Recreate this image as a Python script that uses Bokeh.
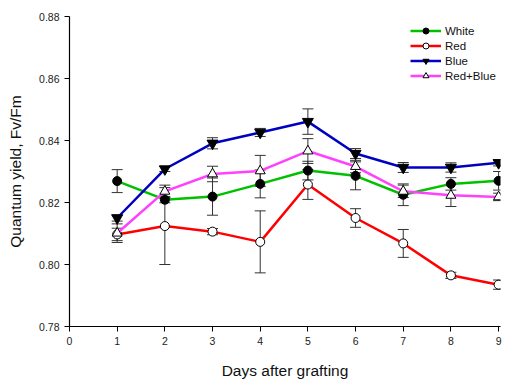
from bokeh.plotting import figure
from bokeh.models import Range1d, ColumnDataSource, Whisker, TeeHead, Legend, LegendItem, FixedTicker, NumeralTickFormatter
from bokeh.embed import file_html
from bokeh.resources import INLINE

days = [1, 2, 3, 4, 5, 6, 7, 8, 9]
white = [0.8269, 0.8209, 0.8219, 0.8260, 0.8303, 0.8286, 0.8225, 0.8260, 0.8270]
white_err = [0.0037, 0.0010, 0.0060, 0.0045, 0.0030, 0.0045, 0.0035, 0.0020, 0.0030]
red = [0.8097, 0.8124, 0.8106, 0.8073, 0.8258, 0.8150, 0.8068, 0.7965, 0.7935]
red_err = [0.0020, 0.0124, 0.0010, 0.0100, 0.0048, 0.0030, 0.0045, 0.0010, 0.0015]
blue = [0.8150, 0.8308, 0.8391, 0.8426, 0.8461, 0.8358, 0.8313, 0.8313, 0.8328]
blue_err = [0.0010, 0.0008, 0.0018, 0.0013, 0.0041, 0.0016, 0.0016, 0.0015, 0.0010]
redblue = [0.8101, 0.8236, 0.8292, 0.8302, 0.8366, 0.8316, 0.8236, 0.8223, 0.8218]
redblue_err = [0.0030, 0.0020, 0.0025, 0.0050, 0.0040, 0.0020, 0.0020, 0.0036, 0.0012]

x_ticks = [0, 1, 2, 3, 4, 5, 6, 7, 8, 9]
y_ticks = [0.78, 0.80, 0.82, 0.84, 0.86, 0.88]

FONT = "Liberation Sans"

p = figure(width=509, height=382, output_backend="svg", toolbar_location=None,
           x_range=Range1d(0, 9.04), y_range=Range1d(0.78, 0.88),
           min_border_left=69, min_border_right=9, min_border_top=16, min_border_bottom=56)
p.outline_line_color = None
p.xgrid.visible = False
p.ygrid.visible = False

p.xaxis.ticker = FixedTicker(ticks=x_ticks)
p.yaxis.ticker = FixedTicker(ticks=y_ticks)
p.yaxis.formatter = NumeralTickFormatter(format="0.00")
for ax in (p.xaxis, p.yaxis):
    ax.major_label_text_font = FONT
    ax.major_label_text_font_size = "10.5px"
    ax.major_label_text_color = "#222222"
    ax.axis_label_text_font = FONT
    ax.axis_label_text_font_size = "15.5px"
    ax.axis_label_text_font_style = "normal"
    ax.axis_label_text_color = "#111111"
    ax.minor_tick_line_color = None
    ax.major_tick_out = 5
    ax.major_tick_in = 0
    ax.axis_line_color = "black"
    ax.axis_line_width = 1.2
    ax.major_tick_line_color = "black"
p.xaxis.axis_label = "Days after grafting"
p.yaxis.axis_label = "Quantum yield, Fv/Fm"
p.xaxis.axis_label_standoff = 14
p.yaxis.axis_label_standoff = 12

series = [
    ("White", white, white_err, "#00c000", "circle", "black", 9),
    ("Red", red, red_err, "#ff0000", "circle", "white", 9),
    ("Blue", blue, blue_err, "#0000c0", "inverted_triangle", "black", 11),
    ("Red+Blue", redblue, redblue_err, "#ff40ff", "triangle", "white", 10),
]

items = []
for name, vals, errs, col, mk, fill, sz in series:
    src = ColumnDataSource(dict(x=days, y=vals,
                                lo=[v - e for v, e in zip(vals, errs)],
                                hi=[v + e for v, e in zip(vals, errs)]))
    w = Whisker(source=src, base="x", upper="hi", lower="lo", line_color="#333333", line_width=1,
                upper_head=TeeHead(size=11, line_color="#333333", line_width=1),
                lower_head=TeeHead(size=11, line_color="#333333", line_width=1))
    p.add_layout(w)
    lr = p.line("x", "y", source=src, line_color=col, line_width=2.5)
    sr = p.scatter("x", "y", source=src, marker=mk, size=sz, fill_color=fill, line_color="black", line_width=1)
    items.append(LegendItem(label=name, renderers=[lr, sr]))

legend = Legend(items=items, location=(341, 243), padding=0, margin=0, spacing=0,
                glyph_width=31, glyph_height=15, label_height=15, label_standoff=4,
                label_text_font=FONT, label_text_font_size="11.5px", label_text_color="#111111",
                border_line_color=None, background_fill_alpha=0)
p.add_layout(legend, "center")

open("out.html", "w").write(file_html(p, INLINE))
